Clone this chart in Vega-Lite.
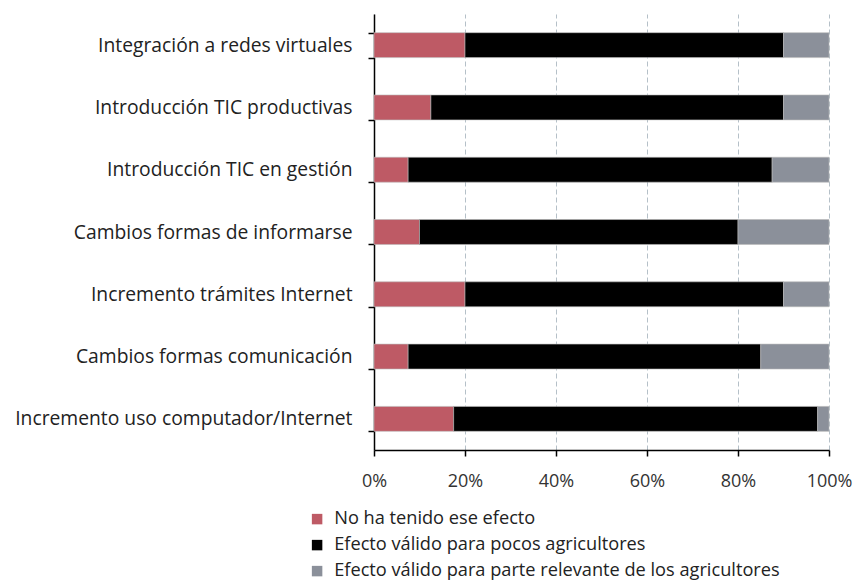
{
  "$schema": "https://vega.github.io/schema/vega-lite/v6.json",
  "width": 455,
  "height": 436,
  "autosize": {"type": "none"},
  "padding": {"left": 374, "top": 14, "right": 26, "bottom": 133},
  "background": "white",
  "config": {
    "view": {"stroke": null},
    "font": "Open Sans"
  },
  "data": {
    "values": [
      {"cat": "Integración a redes virtuales", "serie": "No ha tenido ese efecto", "o": 1, "v": 0.20},
      {"cat": "Integración a redes virtuales", "serie": "Efecto válido para pocos agricultores", "o": 2, "v": 0.70},
      {"cat": "Integración a redes virtuales", "serie": "Efecto válido para parte relevante de los agricultores", "o": 3, "v": 0.10},
      {"cat": "Introducción TIC productivas", "serie": "No ha tenido ese efecto", "o": 1, "v": 0.125},
      {"cat": "Introducción TIC productivas", "serie": "Efecto válido para pocos agricultores", "o": 2, "v": 0.775},
      {"cat": "Introducción TIC productivas", "serie": "Efecto válido para parte relevante de los agricultores", "o": 3, "v": 0.10},
      {"cat": "Introducción TIC en gestión", "serie": "No ha tenido ese efecto", "o": 1, "v": 0.075},
      {"cat": "Introducción TIC en gestión", "serie": "Efecto válido para pocos agricultores", "o": 2, "v": 0.80},
      {"cat": "Introducción TIC en gestión", "serie": "Efecto válido para parte relevante de los agricultores", "o": 3, "v": 0.125},
      {"cat": "Cambios formas de informarse", "serie": "No ha tenido ese efecto", "o": 1, "v": 0.10},
      {"cat": "Cambios formas de informarse", "serie": "Efecto válido para pocos agricultores", "o": 2, "v": 0.70},
      {"cat": "Cambios formas de informarse", "serie": "Efecto válido para parte relevante de los agricultores", "o": 3, "v": 0.20},
      {"cat": "Incremento trámites Internet", "serie": "No ha tenido ese efecto", "o": 1, "v": 0.20},
      {"cat": "Incremento trámites Internet", "serie": "Efecto válido para pocos agricultores", "o": 2, "v": 0.70},
      {"cat": "Incremento trámites Internet", "serie": "Efecto válido para parte relevante de los agricultores", "o": 3, "v": 0.10},
      {"cat": "Cambios formas comunicación", "serie": "No ha tenido ese efecto", "o": 1, "v": 0.075},
      {"cat": "Cambios formas comunicación", "serie": "Efecto válido para pocos agricultores", "o": 2, "v": 0.775},
      {"cat": "Cambios formas comunicación", "serie": "Efecto válido para parte relevante de los agricultores", "o": 3, "v": 0.15},
      {"cat": "Incremento uso computador/Internet", "serie": "No ha tenido ese efecto", "o": 1, "v": 0.175},
      {"cat": "Incremento uso computador/Internet", "serie": "Efecto válido para pocos agricultores", "o": 2, "v": 0.80},
      {"cat": "Incremento uso computador/Internet", "serie": "Efecto válido para parte relevante de los agricultores", "o": 3, "v": 0.025}
    ]
  },
  "mark": {"type": "bar", "stroke": "#bbbbbb", "strokeWidth": 0.6},
  "encoding": {
    "y": {
      "field": "cat",
      "type": "nominal",
      "sort": null,
      "title": null,
      "scale": {"paddingInner": 0.6, "paddingOuter": 0.3},
      "axis": {
        "domainColor": "#000000",
        "domainWidth": 1.5,
        "tickColor": "#000000",
        "tickWidth": 1.5,
        "tickSize": 6,
        "tickBand": "extent",
        "labelFontSize": 19.3,
        "labelColor": "#222222",
        "labelPadding": 16,
        "labelLimit": 400
      }
    },
    "x": {
      "field": "v",
      "type": "quantitative",
      "stack": "zero",
      "title": null,
      "scale": {"domain": [0, 1], "nice": false},
      "axis": {
        "format": ".0%",
        "values": [0, 0.2, 0.4, 0.6, 0.8, 1],
        "labelFlush": false,
        "domainColor": "#000000",
        "domainWidth": 1.5,
        "tickColor": "#000000",
        "tickWidth": 1.5,
        "tickSize": 6,
        "labelFontSize": 18,
        "labelColor": "#333333",
        "labelPadding": 16,
        "grid": true,
        "gridColor": "#b5c0c8",
        "gridDash": [5, 3],
        "gridWidth": 1
      }
    },
    "order": {"field": "o", "type": "quantitative"},
    "color": {
      "field": "serie",
      "type": "nominal",
      "title": null,
      "scale": {
        "domain": ["No ha tenido ese efecto", "Efecto válido para pocos agricultores", "Efecto válido para parte relevante de los agricultores"],
        "range": ["#BE5A65", "#000000", "#8B909A"]
      },
      "legend": {
        "orient": "none",
        "legendX": -66,
        "legendY": 496,
        "direction": "vertical",
        "symbolType": "square",
        "symbolSize": 110,
        "symbolStrokeWidth": 0,
        "labelFontSize": 18.2,
        "labelColor": "#222222",
        "labelLimit": 600,
        "rowPadding": 7,
        "labelOffset": 8
      }
    }
  }
}
